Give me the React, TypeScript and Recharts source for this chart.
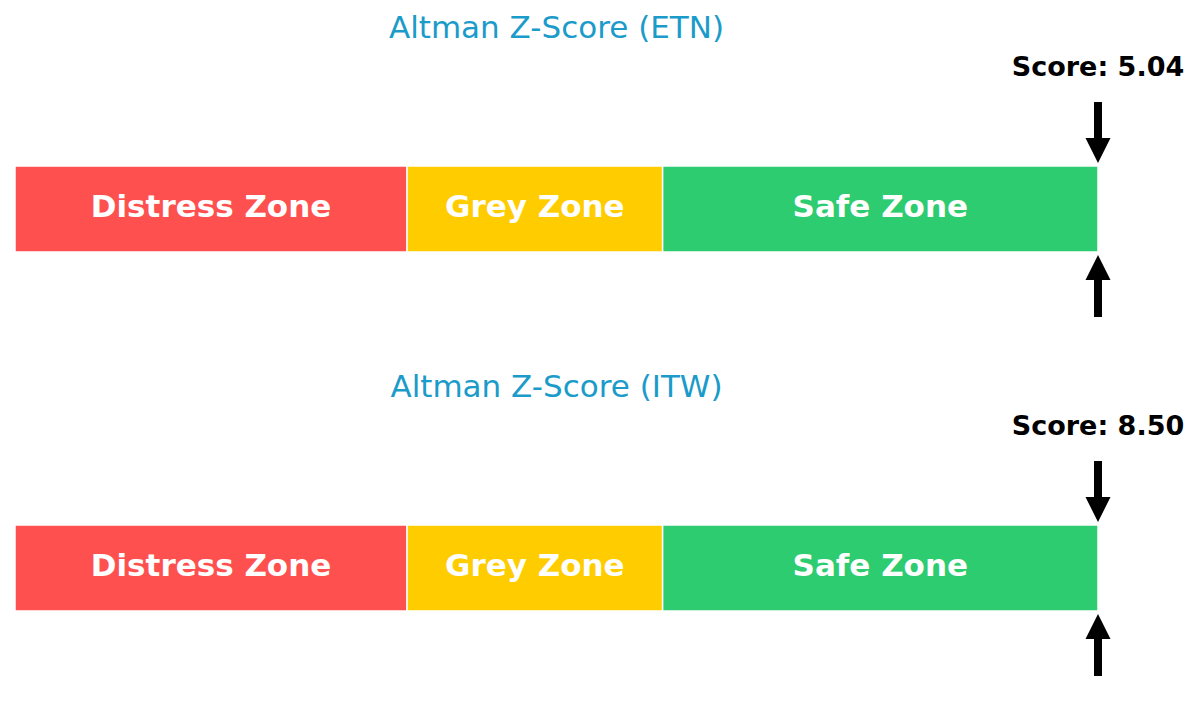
import React from "react";
import { BarChart, Bar, XAxis, YAxis, ReferenceDot, LabelList } from "recharts";

const companies = ["ETN", "ITW"];
const scores = [5.04, 8.5];
const zoneNames = ["Distress Zone", "Grey Zone", "Safe Zone"];
const zoneEdges = [0, 1.81, 2.99, 5.0];
const zoneColors = ["#ff5050", "#ffcc00", "#2ecc71"];
const zoneKeys = ["distress", "grey", "safe"];
const axisMax = 5.0;

const W = 1200;
const PANEL_H = 359;
const MARGIN = { top: 120, bottom: 61, left: 15, right: 102 };
const FONT = "'DejaVu Sans', 'Liberation Sans', sans-serif";

const makeRow = (company: string) => {
  const row: Record<string, any> = { company };
  zoneKeys.forEach((k, i) => {
    row[k] = zoneEdges[i + 1] - zoneEdges[i];
  });
  return row;
};

const ZoneLabel = (name: string) => (props: any) => {
  const { x, y, width, height } = props;
  return (
    <text
      x={Number(x) + Number(width) / 2}
      y={Number(y) + Number(height) / 2 + 8}
      textAnchor="middle"
      fill="#ffffff"
      fontFamily={FONT}
      fontWeight="bold"
      fontSize={31}
    >
      {name}
    </text>
  );
};

const ScoreMarker = (label: string) => (props: any) => {
  const cx = Number(props.cx);
  const cy = Number(props.cy);
  const sw = 4;
  const hw = 12.5;
  const down = [
    [cx - sw, cy - 107],
    [cx + sw, cy - 107],
    [cx + sw, cy - 71],
    [cx + hw, cy - 71],
    [cx, cy - 46],
    [cx - hw, cy - 71],
    [cx - sw, cy - 71],
  ];
  const up = [
    [cx - sw, cy + 108],
    [cx + sw, cy + 108],
    [cx + sw, cy + 71],
    [cx + hw, cy + 71],
    [cx, cy + 46],
    [cx - hw, cy + 71],
    [cx - sw, cy + 71],
  ];
  return (
    <g>
      <text
        x={cx}
        y={cy - 133}
        textAnchor="middle"
        fill="#000"
        fontFamily={FONT}
        fontWeight="bold"
        fontSize={27}
      >
        {label}
      </text>
      <polygon points={down.map((p) => p.join(",")).join(" ")} fill="#000" />
      <polygon points={up.map((p) => p.join(",")).join(" ")} fill="#000" />
    </g>
  );
};

const Panel = ({ company, score }: { company: string; score: number }) => {
  const data = [makeRow(company)];
  const plotCenter = MARGIN.left + (W - MARGIN.left - MARGIN.right) / 2;
  return (
    <div style={{ position: "relative", width: W, height: PANEL_H }}>
      <svg
        width={W}
        height={60}
        style={{ position: "absolute", left: 0, top: 0, pointerEvents: "none" }}
      >
        <text
          x={plotCenter}
          y={38}
          textAnchor="middle"
          fill="#1a9bc9"
          fontFamily={FONT}
          fontSize={31}
        >
          {`Altman Z-Score (${company})`}
        </text>
      </svg>
      <BarChart
        width={W}
        height={PANEL_H}
        data={data}
        layout="vertical"
        margin={MARGIN}
        barCategoryGap={0}
      >
        <XAxis type="number" domain={[0, axisMax]} hide allowDataOverflow />
        <YAxis type="category" dataKey="company" hide width={0} />
        {zoneKeys.map((k, i) => (
          <Bar
            key={k}
            dataKey={k}
            stackId="zones"
            fill={zoneColors[i]}
            stroke="#ffffff"
            strokeWidth={1.5}
            barSize={86}
            isAnimationActive={false}
          >
            <LabelList dataKey={k} content={ZoneLabel(zoneNames[i])} />
          </Bar>
        ))}
        <ReferenceDot
          x={Math.min(score, axisMax)}
          y={company}
          r={0}
          ifOverflow="visible"
          shape={ScoreMarker(`Score: ${score.toFixed(2)}`)}
        />
      </BarChart>
    </div>
  );
}
;

export default function App() {
  return (
    <div
      style={{
        position: "absolute",
        left: 0,
        top: 0,
        width: W,
        height: 718,
        background: "#ffffff",
      }}
    >
      {companies.map((c, i) => (
        <Panel key={c} company={c} score={scores[i]} />
      ))}
    </div>
  );
}
